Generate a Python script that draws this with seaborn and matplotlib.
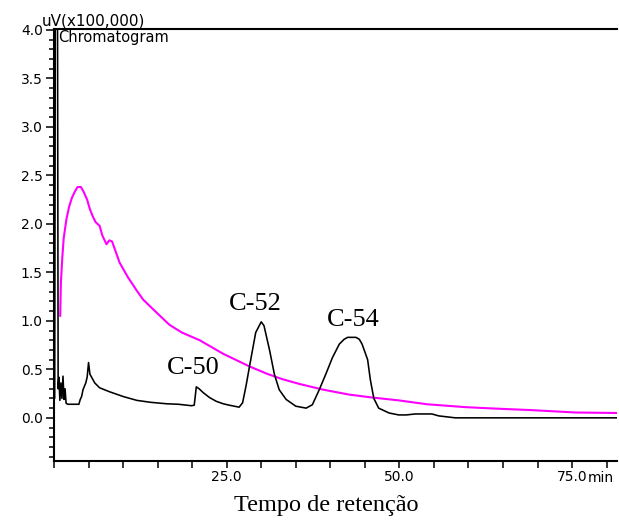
import matplotlib
matplotlib.use("Agg")
import matplotlib.pyplot as plt
from matplotlib.ticker import MultipleLocator, FixedLocator
import seaborn as sns
import pandas as pd

# Retention time (min) and detector response (x100,000 uV) of the sample trace
black_t = [0.1, 0.2, 0.5, 0.6, 0.7, 0.85, 1.0, 1.15, 1.3, 1.45, 1.6, 1.75, 2.0,
           3.6, 3.8, 4.0, 4.2, 4.6, 4.8, 5.0, 5.2, 5.9, 6.6, 8.0, 10.0, 12.0,
           14.0, 16.3, 18.0, 19.9, 20.3, 20.6, 21.0, 21.6, 22.5, 23.5, 24.5,
           25.4, 26.8, 27.3, 27.8, 28.3, 29.2, 30.0, 30.4, 31.2, 31.9, 32.6,
           33.6, 35.0, 36.5, 37.4, 38.4, 39.4, 40.3, 41.3, 42.0, 42.5, 43.7,
           44.2, 44.6, 45.4, 45.8, 46.3, 47.0, 48.5, 49.9, 51.0, 52.3, 54.7,
           55.7, 58.1, 81.5]
black_v = [0.20, 4.60, 4.60, 0.30, 0.42, 0.18, 0.36, 0.20, 0.43, 0.19, 0.30,
           0.15, 0.14, 0.14, 0.19, 0.22, 0.29, 0.36, 0.42, 0.57, 0.45, 0.36,
           0.31, 0.27, 0.22, 0.18, 0.16, 0.145, 0.14, 0.125, 0.13, 0.32, 0.30,
           0.26, 0.21, 0.17, 0.145, 0.13, 0.11, 0.155, 0.33, 0.53, 0.88, 0.99,
           0.95, 0.70, 0.45, 0.29, 0.19, 0.12, 0.10, 0.135, 0.29, 0.46, 0.62,
           0.76, 0.81, 0.83, 0.83, 0.81, 0.76, 0.60, 0.39, 0.20, 0.10, 0.05,
           0.03, 0.03, 0.04, 0.04, 0.02, 0.0, 0.0]

# Second (magenta) trace
mag_t = [0.9, 1.0, 1.2, 1.4, 1.8, 2.2, 2.6, 3.0, 3.4, 3.9, 4.3, 4.8, 5.2, 5.6,
         6.0, 6.6, 7.0, 7.6, 8.0, 8.4, 9.0, 9.5, 10.7, 12.0, 12.9, 13.9, 16.7,
         18.5, 21.1, 24.5, 28.3, 31.0, 33.0, 35.5, 39.0, 42.7, 46.0, 49.9,
         54.0, 59.6, 64.0, 69.0, 75.5, 81.5]
mag_v = [1.05, 1.40, 1.65, 1.85, 2.05, 2.18, 2.27, 2.33, 2.38, 2.38, 2.33,
         2.25, 2.15, 2.08, 2.02, 1.98, 1.88, 1.79, 1.83, 1.82, 1.70, 1.60,
         1.45, 1.31, 1.22, 1.15, 0.96, 0.88, 0.80, 0.66, 0.53, 0.45, 0.40,
         0.35, 0.29, 0.24, 0.21, 0.18, 0.14, 0.11, 0.095, 0.08, 0.055, 0.05]

# Peak labels
peak_names = ["C-50", "C-52", "C-54"]
peak_t = [20.1, 29.1, 43.3]
peak_label_y = [0.45, 1.11, 0.95]

x_ticks = [25.0, 50.0, 75.0]
x_tick_labels = ["25.0", "50.0", "75.0"]
y_ticks = [0.0, 0.5, 1.0, 1.5, 2.0, 2.5, 3.0, 3.5, 4.0]

sns.set_style("white")
plt.rcParams["font.family"] = ["DejaVu Sans"]
plt.rcParams["text.color"] = "black"
plt.rcParams["xtick.color"] = "black"
plt.rcParams["ytick.color"] = "black"
plt.rcParams["xtick.labelcolor"] = "black"
plt.rcParams["ytick.labelcolor"] = "black"

fig = plt.figure(figsize=(6.19, 5.23), dpi=100)
ax = fig.add_axes([54 / 619, 1 - 460.5 / 523, (617 - 54) / 619, (460.5 - 29) / 523])

df_mag = pd.DataFrame({"t": mag_t, "v": mag_v})
df_blk = pd.DataFrame({"t": black_t, "v": black_v})
sns.lineplot(data=df_mag, x="t", y="v", color="#ff00ff", lw=1.5,
             estimator=None, sort=False, ax=ax)
sns.lineplot(data=df_blk, x="t", y="v", color="black", lw=1.15,
             estimator=None, sort=False, ax=ax)

ax.set_xlim(0, 81.5)
ax.set_ylim(-0.44, 4.01)
ax.set_xlabel("")
ax.set_ylabel("")

# axis frame: left, bottom and top lines
for side in ["left", "bottom", "top"]:
    ax.spines[side].set_visible(True)
    ax.spines[side].set_color("black")
    ax.spines[side].set_linewidth(1.5)
ax.spines["right"].set_visible(False)

ax.xaxis.set_major_locator(FixedLocator(x_ticks))
ax.set_xticklabels(x_tick_labels)
ax.xaxis.set_minor_locator(MultipleLocator(5))
ax.yaxis.set_major_locator(FixedLocator(y_ticks))
ax.set_yticklabels([f"{v:.1f}" for v in y_ticks])
ax.yaxis.set_minor_locator(MultipleLocator(0.1))

ax.tick_params(axis="x", which="both", direction="out", length=5, width=1.1,
               bottom=True, top=False, labelsize=10, pad=2, color="black")
ax.tick_params(axis="y", which="major", direction="out", length=6, width=1.1,
               left=True, right=False, labelsize=10, pad=2, color="black")
ax.tick_params(axis="y", which="minor", direction="out", length=3.8, width=1.1,
               left=True, right=False, color="black")

# unit suffix directly after the last x tick label
ax.annotate("min", xy=(75, 0), xycoords=("data", "axes fraction"),
            xytext=(11.3, -7.5), textcoords="offset points",
            ha="left", va="top", fontsize=10)

fig.text(42 / 619, 1 - 26 / 523, "uV(x100,000)", fontsize=11,
         ha="left", va="baseline")
ax.text(0.007, 0.997, "Chromatogram", transform=ax.transAxes, fontsize=10.5,
        ha="left", va="top")

for name, t, y in zip(peak_names, peak_t, peak_label_y):
    ax.text(t, y, name, fontsize=19, family="Liberation Serif",
            ha="center", va="baseline")

fig.text(326 / 619, 1 - 505 / 523, "Tempo de retenção", fontsize=17.5,
         family="Liberation Serif", ha="center", va="center")

fig.savefig("out.png", dpi=100)
